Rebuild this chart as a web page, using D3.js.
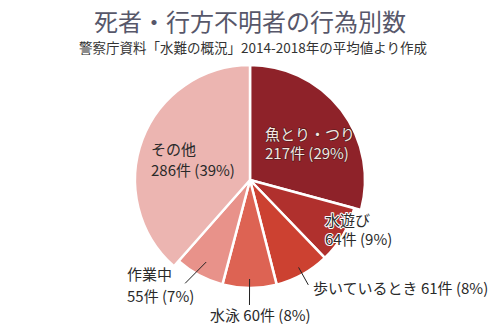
<!DOCTYPE html>
<html><head><meta charset="utf-8">
<script src="https://cdn.jsdelivr.net/npm/d3@7"></script>
<style>
html,body{margin:0;padding:0;background:#fff;}
text{font-family:"Noto Sans CJK JP","Noto Sans",sans-serif;}
</style></head>
<body><svg id="c" width="500" height="333"></svg>
<script>
const categories = ["魚とり・つり","水遊び","歩いているとき","水泳","作業中","その他"];
const counts = [217, 64, 61, 60, 55, 286];
const percents = ["29%","9%","8%","8%","7%","39%"];
const colors = ["#8e2229","#b0302d","#cc4131","#dd6353","#e8928a","#ecb5b1"];
const title = "死者・行方不明者の行為別数";
const subtitle = "警察庁資料「水難の概況」2014-2018年の平均値より作成";

const svg = d3.select("#c");
svg.append("text").attr("x",250).attr("y",31).attr("text-anchor","middle")
  .attr("font-size",24).attr("fill","#57576a").text(title);
svg.append("text").attr("x",253).attr("y",53).attr("text-anchor","middle")
  .attr("font-size",13.5).attr("fill","#333").text(subtitle);

const cx=250, cy=180;
const data = categories.map((c,i)=>({cat:c,count:counts[i],pct:percents[i],color:colors[i],big:(i===0||i===5)}));
const pie = d3.pie().value(d=>d.count).sort(null);
const arcs = pie(data);
const g = svg.append("g").attr("transform",`translate(${cx},${cy})`);
g.selectAll("path").data(arcs).join("path")
  .attr("d", d=>d3.arc().innerRadius(0).outerRadius(d.data.big?115:108)(d))
  .attr("fill", d=>d.data.color)
  .attr("stroke","#fff").attr("stroke-width",2.5).attr("stroke-linejoin","round");

// leader lines (angle-based from the arc mid angles)
const leaders = [
  {i:2, r1:100, r2:120, da:0},
  {i:3, r1:99, r2:125, da:0},
  {i:4, r1:93, r2:122, da:0.07}
];
leaders.forEach(l=>{
  const a = arcs[l.i]; const m=(a.startAngle+a.endAngle)/2;
  const m2 = m + l.da;
  g.append("line")
   .attr("x1",Math.sin(m)*l.r1).attr("y1",-Math.cos(m)*l.r1)
   .attr("x2",Math.sin(m2)*l.r2).attr("y2",-Math.cos(m2)*l.r2)
   .attr("stroke","#222").attr("stroke-width",1);
});

function label(lines,x,y,opts){
  lines.forEach((s,k)=>{
    svg.append("text").attr("x",x).attr("y",y+k*(opts.lh||20)).attr("font-size",15)
      .attr("fill",opts.fill).attr("stroke",opts.stroke||"none").attr("stroke-width",opts.sw||0)
      .attr("paint-order","stroke").attr("stroke-linejoin","round").text(s);
  });
}
const lab = (i)=>`${counts[i]}件 (${percents[i]})`;
label([categories[0], lab(0)], 265, 140, {fill:"#f4e6e2", stroke:"#4a1a1a", sw:1.2, lh:19});
label([categories[1], lab(1)], 325, 226, {fill:"#2a2a2a", stroke:"#fff", sw:2, lh:19});
label([categories[2]+" "+lab(2)], 313, 294, {fill:"#2a2a2a"});
label([categories[3]+" "+lab(3)], 210, 321, {fill:"#2a2a2a"});
label([categories[4], lab(4)], 127, 280, {fill:"#2a2a2a", lh:22});
label([categories[5], lab(5)], 151, 155, {fill:"#2a2a2a", lh:21});
</script></body></html>
